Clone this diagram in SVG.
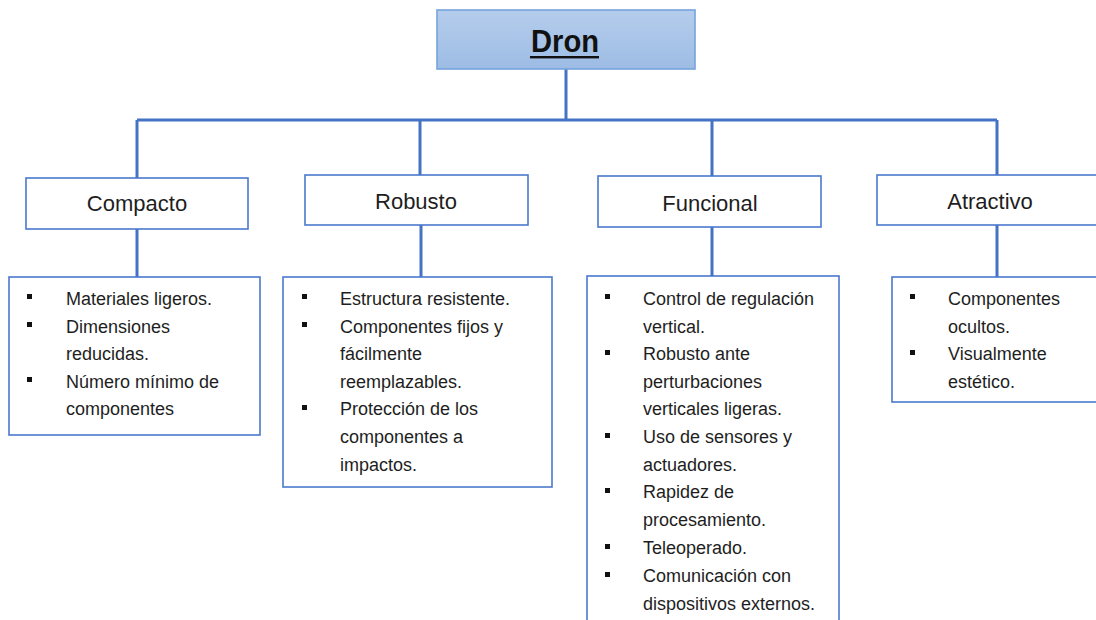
<svg xmlns="http://www.w3.org/2000/svg" width="1096" height="620" viewBox="0 0 1096 620">
<defs>
<linearGradient id="g" x1="0" y1="0" x2="0" y2="1">
<stop offset="0" stop-color="#b5cdec"/>
<stop offset="1" stop-color="#9dbce4"/>
</linearGradient>
<style>
.box{fill:#fff;stroke:#4a78cc;stroke-width:1.6}
.conn{stroke:#4472c4;stroke-width:3;fill:none}
.cat{font-family:"Liberation Sans",Arial,sans-serif;font-size:22px;fill:#1e1e1e;text-anchor:middle}
.li{font-family:"Liberation Sans",Arial,sans-serif;font-size:18px;fill:#1e1e1e}
.b{fill:#111}
</style>
</defs>
<rect width="1096" height="620" fill="#fff"/>
<g id="connectors">
<path class="conn" d="M566 69V120M137 120H997M137 120V178M420 120V175M712 120V176M997 120V175"/>
<path class="conn" d="M137 229V277M421 225V277M712 227V276M997 225V277"/>
</g>
<g id="dron">
<rect x="437" y="10" width="258" height="59" fill="url(#g)" stroke="#76a3dc" stroke-width="1.6"/>
<text x="565" y="52" font-family="Liberation Sans,Arial,sans-serif" font-weight="bold" font-size="32" fill="#111" text-anchor="middle" textLength="68" lengthAdjust="spacingAndGlyphs">Dron</text>
<rect x="530" y="56" width="69" height="2.4" fill="#111"/>
</g>
<g id="compacto">
<rect class="box" x="26" y="178" width="222" height="51"/>
<text class="cat" x="137" y="211">Compacto</text>
</g>
<g id="robusto">
<rect class="box" x="305" y="175" width="223" height="50"/>
<text class="cat" x="416" y="209">Robusto</text>
</g>
<g id="funcional">
<rect class="box" x="598" y="176" width="223" height="51"/>
<text class="cat" x="710" y="211">Funcional</text>
</g>
<g id="atractivo">
<rect class="box" x="877" y="175" width="225" height="50"/>
<text class="cat" x="990" y="209">Atractivo</text>
</g>
<g id="compacto-list">
<rect class="box" x="9" y="277" width="251" height="158"/>
<rect class="b" x="27" y="294" width="5" height="5"/>
<rect class="b" x="27" y="322" width="5" height="5"/>
<rect class="b" x="27" y="377" width="5" height="5"/>
<text class="li" x="66" y="305">Materiales ligeros.</text>
<text class="li" x="66" y="333">Dimensiones</text>
<text class="li" x="66" y="360">reducidas.</text>
<text class="li" x="66" y="388">Número mínimo de</text>
<text class="li" x="66" y="415">componentes</text>
</g>
<g id="robusto-list">
<rect class="box" x="283" y="277" width="269" height="210"/>
<rect class="b" x="302" y="294" width="5" height="5"/>
<rect class="b" x="302" y="322" width="5" height="5"/>
<rect class="b" x="302" y="405" width="5" height="5"/>
<text class="li" x="340" y="305">Estructura resistente.</text>
<text class="li" x="340" y="333">Componentes fijos y</text>
<text class="li" x="340" y="360">fácilmente</text>
<text class="li" x="340" y="388">reemplazables.</text>
<text class="li" x="340" y="415">Protección de los</text>
<text class="li" x="340" y="443">componentes a</text>
<text class="li" x="340" y="471">impactos.</text>
</g>
<g id="funcional-list">
<rect class="box" x="587" y="276" width="252" height="350"/>
<rect class="b" x="605" y="294" width="5" height="5"/>
<rect class="b" x="605" y="350" width="5" height="5"/>
<rect class="b" x="605" y="433" width="5" height="5"/>
<rect class="b" x="605" y="488" width="5" height="5"/>
<rect class="b" x="605" y="544" width="5" height="5"/>
<rect class="b" x="605" y="572" width="5" height="5"/>
<text class="li" x="643" y="305">Control de regulación</text>
<text class="li" x="643" y="333">vertical.</text>
<text class="li" x="643" y="360">Robusto ante</text>
<text class="li" x="643" y="388">perturbaciones</text>
<text class="li" x="643" y="415">verticales ligeras.</text>
<text class="li" x="643" y="443">Uso de sensores y</text>
<text class="li" x="643" y="471">actuadores.</text>
<text class="li" x="643" y="498">Rapidez de</text>
<text class="li" x="643" y="526">procesamiento.</text>
<text class="li" x="643" y="554">Teleoperado.</text>
<text class="li" x="643" y="582">Comunicación con</text>
<text class="li" x="643" y="610">dispositivos externos.</text>
</g>
<g id="atractivo-list">
<rect class="box" x="892" y="277" width="210" height="125"/>
<rect class="b" x="910" y="294" width="5" height="5"/>
<rect class="b" x="910" y="350" width="5" height="5"/>
<text class="li" x="948" y="305">Componentes</text>
<text class="li" x="948" y="333">ocultos.</text>
<text class="li" x="948" y="360">Visualmente</text>
<text class="li" x="948" y="388">estético.</text>
</g>
</svg>
